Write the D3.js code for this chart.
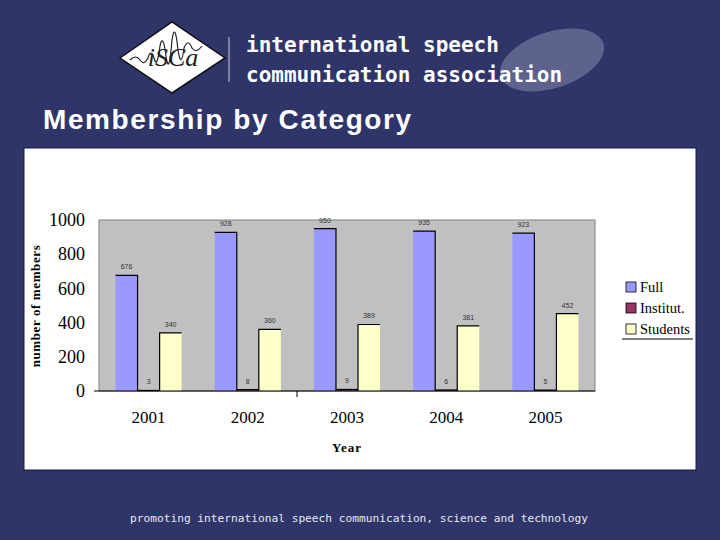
<!DOCTYPE html>
<html><head><meta charset="utf-8">
<script src="https://cdn.jsdelivr.net/npm/d3@7"></script>
<style>html,body{margin:0;padding:0;background:#2f3568;}svg{display:block;}</style>
</head><body>
<script>
const years = ["2001","2002","2003","2004","2005"];
const seriesNames = ["Full","Institut.","Students"];
const fullVals = [676, 928, 950, 935, 923];
const institVals = [3, 8, 9, 6, 5];
const studentVals = [340, 360, 389, 381, 452];
const yTicks = [0, 200, 400, 600, 800, 1000];
const colors = ["#9999ff", "#993366", "#ffffcc"];

const W = 720, H = 540;
const svg = d3.select("body").append("svg").attr("width", W).attr("height", H);
svg.append("rect").attr("width", W).attr("height", H).attr("fill", "#2f3568");

// Header logo
const logo = svg.append("g");
logo.append("path").attr("d","M120,58 L172,22 L225,58 L172,93 Z").attr("fill","#ffffff").attr("stroke","#111").attr("stroke-width",1.5);
logo.append("path").attr("d","M130,60 q6,-6 10,0 q4,6 8,-2 q3,-10 6,0 q3,12 6,-12 q3,-14 6,10 q3,22 6,-16 q3,-20 6,10 q3,20 6,-2 q4,-10 8,0 q4,6 10,-2")
  .attr("fill","none").attr("stroke","#222").attr("stroke-width",1.2);
logo.append("text").attr("x",173).attr("y",66).attr("text-anchor","middle").attr("font-family","Liberation Serif, serif").attr("font-style","italic").attr("font-size",26).attr("fill","#222").text("iSCa");
svg.append("line").attr("x1",229).attr("x2",229).attr("y1",37).attr("y2",82).attr("stroke","#ccd").attr("stroke-width",1);
svg.append("ellipse").attr("cx",552).attr("cy",60).attr("rx",54).attr("ry",28).attr("transform","rotate(-18,552,60)").attr("fill","#7d82a6").attr("opacity",0.6);
svg.append("text").attr("x",246).attr("y",52).attr("font-family","DejaVu Sans Mono, monospace").attr("font-weight","bold").attr("font-size",21).attr("fill","#ffffff").text("international speech");
svg.append("text").attr("x",246).attr("y",82).attr("font-family","DejaVu Sans Mono, monospace").attr("font-weight","bold").attr("font-size",21).attr("fill","#ffffff").text("communication association");

svg.append("text").attr("x",43).attr("y",129).attr("font-family","Liberation Sans, Arial, sans-serif").attr("font-weight","bold").attr("font-size",28).attr("letter-spacing",1.6).attr("fill","#ffffff").text("Membership by Category");

svg.append("text").attr("x",130).attr("y",522).attr("font-family","DejaVu Sans Mono, monospace").attr("font-size",11.2).attr("fill","#e8e8f0").text("promoting international speech communication, science and technology");

// chart box
svg.append("rect").attr("x",24).attr("y",148).attr("width",672).attr("height",322).attr("fill","#ffffff").attr("stroke","#1a1a40").attr("stroke-width",1);

const plot = {l: 99, r: 595, t: 220, b: 391};
const x0 = d3.scaleBand().domain(years).range([plot.l, plot.r]).paddingInner(1/3).paddingOuter(1/6);
const x1 = d3.scaleBand().domain(seriesNames).range([0, x0.bandwidth()]);
const y = d3.scaleLinear().domain([0, 1000]).range([plot.b, plot.t]);

svg.append("rect").attr("x",plot.l).attr("y",plot.t).attr("width",plot.r-plot.l).attr("height",plot.b-plot.t)
  .attr("fill","#c0c0c0").attr("stroke","#808080").attr("stroke-width",1);

const series = [fullVals, institVals, studentVals];
const data = [];
years.forEach((yr,i)=>seriesNames.forEach((s,j)=>data.push({yr, s, j, v: series[j][i]})));

const g = svg.append("g");
g.selectAll("rect.bar").data(data).join("rect").attr("class","bar")
  .attr("x", d=>x0(d.yr)+x1(d.s)).attr("width", x1.bandwidth())
  .attr("y", d=>y(d.v)).attr("height", d=>y(0)-y(d.v))
  .attr("fill", d=>colors[d.j]);
// edge lines
g.selectAll("path.edge").data(data).join("path").attr("class","edge")
  .attr("d", d=>{
    const xa = x0(d.yr)+x1(d.s), xb = xa + x1.bandwidth(), yt = y(d.v), yb = y(0);
    if (d.j===0) return `M${xa},${yt}H${xb}V${yb}`;
    if (d.j===2) return `M${xa},${yb}V${yt}H${xb}`;
    return `M${xa},${yt}H${xb}`;
  }).attr("fill","none").attr("stroke","#000").attr("stroke-width",1.2);

g.selectAll("text.lbl").data(data).join("text").attr("class","lbl")
  .attr("x", d=>x0(d.yr)+x1(d.s)+x1.bandwidth()/2).attr("y", d=>y(d.v)-6)
  .attr("text-anchor","middle").attr("font-family","Liberation Sans, Arial, sans-serif").attr("font-size",7)
  .attr("fill","#333").text(d=>d.v);

// axes
const yAxis = d3.axisLeft(y).tickValues(yTicks).tickSize(0).tickPadding(14).tickFormat(d3.format("d"));
const ya = svg.append("g").attr("transform",`translate(${plot.l},0)`).call(yAxis);
ya.select(".domain").remove();
ya.selectAll("text").attr("font-family","Liberation Serif, Times New Roman, serif").attr("font-size",18).attr("fill","#000");

svg.append("line").attr("x1",94).attr("x2",plot.r).attr("y1",plot.b).attr("y2",plot.b).attr("stroke","#000").attr("stroke-width",1.2);
svg.append("line").attr("x1",297).attr("x2",297).attr("y1",plot.b).attr("y2",plot.b+6).attr("stroke","#000");

const xAxis = d3.axisBottom(x0).tickSize(0).tickPadding(20);
const xa = svg.append("g").attr("transform",`translate(0,${plot.b})`).call(xAxis);
xa.select(".domain").remove();
xa.selectAll("text").attr("font-family","Liberation Serif, Times New Roman, serif").attr("font-size",17).attr("fill","#000");

svg.append("text").attr("x",347).attr("y",452).attr("text-anchor","middle").attr("font-family","Liberation Serif, serif").attr("font-weight","bold").attr("font-size",13).attr("letter-spacing",1).text("Year");
svg.append("text").attr("transform","translate(40,306) rotate(-90)").attr("text-anchor","middle").attr("font-family","Liberation Serif, serif").attr("font-weight","bold").attr("font-size",13).attr("letter-spacing",0.6).text("number of members");

// legend
const leg = svg.append("g");
seriesNames.forEach((s,j)=>{
  leg.append("rect").attr("x",626).attr("y",282+j*21).attr("width",10).attr("height",10).attr("fill",colors[j]).attr("stroke","#000").attr("stroke-width",0.8);
  leg.append("text").attr("x",640).attr("y",292+j*21).attr("font-family","Liberation Serif, serif").attr("font-size",14.5).attr("fill","#000").text(s);
});
leg.append("line").attr("x1",622).attr("x2",693).attr("y1",339).attr("y2",339).attr("stroke","#000");
</script>
</body></html>
